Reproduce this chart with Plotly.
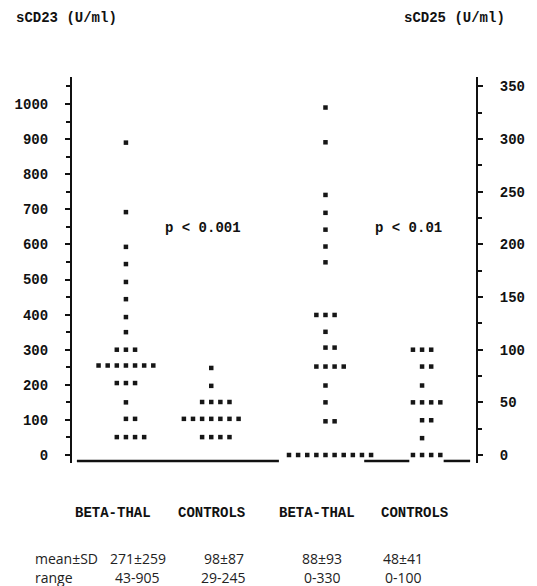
import plotly.graph_objects as go

# ---------------- data ----------------
groups = ["BETA-THAL", "CONTROLS", "BETA-THAL", "CONTROLS"]

# sCD23 (U/ml), left axis: dot-plot rows (values) and number of dots per row
cd23_beta_vals = [890, 692, 593, 544, 493, 444, 393, 350, 300, 255, 205, 150, 103, 51]
cd23_beta_cnt = [1, 1, 1, 1, 1, 1, 1, 1, 3, 7, 3, 1, 2, 4]
cd23_ctrl_vals = [248, 197, 151, 103, 51]
cd23_ctrl_cnt = [1, 1, 4, 7, 4]

# sCD25 (U/ml), right axis
cd25_beta_vals = [330, 297, 247, 230, 214, 198, 183, 133, 117, 102, 84, 66, 50, 32, 0]
cd25_beta_cnt = [1, 1, 1, 1, 1, 1, 1, 3, 1, 2, 4, 1, 1, 2, 10]
cd25_ctrl_vals = [100, 84, 66, 50, 33, 16, 0]
cd25_ctrl_cnt = [3, 2, 1, 4, 2, 1, 4]

p_labels = ["p < 0.001", "p < 0.01"]
mean_sd = ["271±259", "98±87", "88±93", "48±41"]
ranges = ["43-905", "29-245", "0-330", "0-100"]

left_ticks = list(range(0, 1001, 100))
right_ticks = list(range(0, 351, 50))

# ---------------- layout constants ----------------
W, H = 537, 586
L, R, T, B = 72, 53, 77, 123
PH = H - T - B
centers = [127, 214, 330.5, 429]      # dot column centres (x units = px)
label_x = [114, 214, 322, 421]
stat_x = [139, 227, 327, 410]
SP = 9.3
DOT = "#161616"
mono = dict(family="Liberation Mono", size=14, color="#111", weight="bold")
sans = dict(family="Open Sans", size=14, color="#222")


def ypaper(pix):
    return (H - B - pix) / PH


def xpaper(pix):
    return (pix - L) / (W - L - R)


def dot_xy(center, vals, cnts):
    xs, ys = [], []
    for v, n in zip(vals, cnts):
        for k in range(n):
            off = 0 if k == 0 else ((k + 1) // 2 if k % 2 else -(k // 2))
            xs.append(center + off * SP)
            ys.append(v)
    return xs, ys


fig = go.Figure()
sets = [
    (cd23_beta_vals, cd23_beta_cnt, "y"),
    (cd23_ctrl_vals, cd23_ctrl_cnt, "y"),
    (cd25_beta_vals, cd25_beta_cnt, "y2"),
    (cd25_ctrl_vals, cd25_ctrl_cnt, "y2"),
]
for i, (vals, cnts, ax) in enumerate(sets):
    xs, ys = dot_xy(centers[i], vals, cnts)
    fig.add_trace(go.Scatter(
        x=xs, y=ys, yaxis=ax, mode="markers", cliponaxis=False,
        marker=dict(symbol="square", size=4.5, color=DOT, line=dict(width=0)),
        showlegend=False, hoverinfo="y"))

# baseline segments (broken where zero-valued dots sit)
for x0, x1 in [(77, 283), (370, 416), (451, 478)]:
    fig.add_shape(type="line", xref="x", yref="y", x0=x0, x1=x1, y0=-17, y1=-17,
                  line=dict(color="#111", width=2.5))

ann = []
ann.append(dict(text="sCD23 (U/ml)", x=xpaper(13), y=ypaper(18), xanchor="left"))
ann.append(dict(text="sCD25 (U/ml)", x=xpaper(516), y=ypaper(18), xanchor="right"))
ann.append(dict(text=p_labels[0], x=xpaper(206), y=ypaper(228), xanchor="center"))
ann.append(dict(text=p_labels[1], x=xpaper(415), y=ypaper(228), xanchor="center"))
for g, xp in zip(groups, label_x):
    ann.append(dict(text=g, x=xpaper(xp), y=ypaper(513), xanchor="center"))
annotations = []
for a in ann:
    annotations.append(dict(xref="paper", yref="paper", showarrow=False,
                            yanchor="middle", font=mono, **a))
Y1, Y2 = 558, 577
annotations.append(dict(xref="paper", yref="paper", showarrow=False, text="mean±SD",
                        x=xpaper(32), y=ypaper(Y1), xanchor="left", yanchor="middle", font=sans))
annotations.append(dict(xref="paper", yref="paper", showarrow=False, text="range",
                        x=xpaper(32), y=ypaper(Y2), xanchor="left", yanchor="middle", font=sans))
for m, r, xp in zip(mean_sd, ranges, stat_x):
    annotations.append(dict(xref="paper", yref="paper", showarrow=False, text=m,
                            x=xpaper(xp), y=ypaper(Y1), xanchor="center", yanchor="middle", font=sans))
    annotations.append(dict(xref="paper", yref="paper", showarrow=False, text=r,
                            x=xpaper(xp), y=ypaper(Y2), xanchor="center", yanchor="middle", font=sans))

axis_common = dict(showline=True, linecolor="#111", linewidth=2, ticks="outside",
                   ticklen=5, tickwidth=2, tickcolor="#111", showgrid=False,
                   zeroline=False, tickfont=mono, fixedrange=True)

fig.update_layout(
    width=W, height=H,
    margin=dict(l=L, r=R, t=T, b=B),
    paper_bgcolor="white", plot_bgcolor="white",
    xaxis=dict(range=[L, W - R], visible=False, fixedrange=True),
    yaxis=dict(range=[-22.8, 1077], tickvals=left_ticks, ticklabelstandoff=14,
               minor=dict(tickvals=[v + 50 for v in left_ticks], ticks="outside",
                          ticklen=4, tickwidth=2, tickcolor="#111"),
               **axis_common),
    yaxis2=dict(range=[-7.6, 359], overlaying="y", side="right", anchor="x",
                tickvals=right_ticks, ticklabelstandoff=14,
                minor=dict(tickvals=[v + 25 for v in right_ticks], ticks="outside",
                           ticklen=4, tickwidth=2, tickcolor="#111"),
                **axis_common),
    annotations=annotations,
    showlegend=False,
)

fig.write_html("out.html", config={"displayModeBar": False},
               post_script="document.body.style.margin='0';document.body.style.overflow='hidden';")
